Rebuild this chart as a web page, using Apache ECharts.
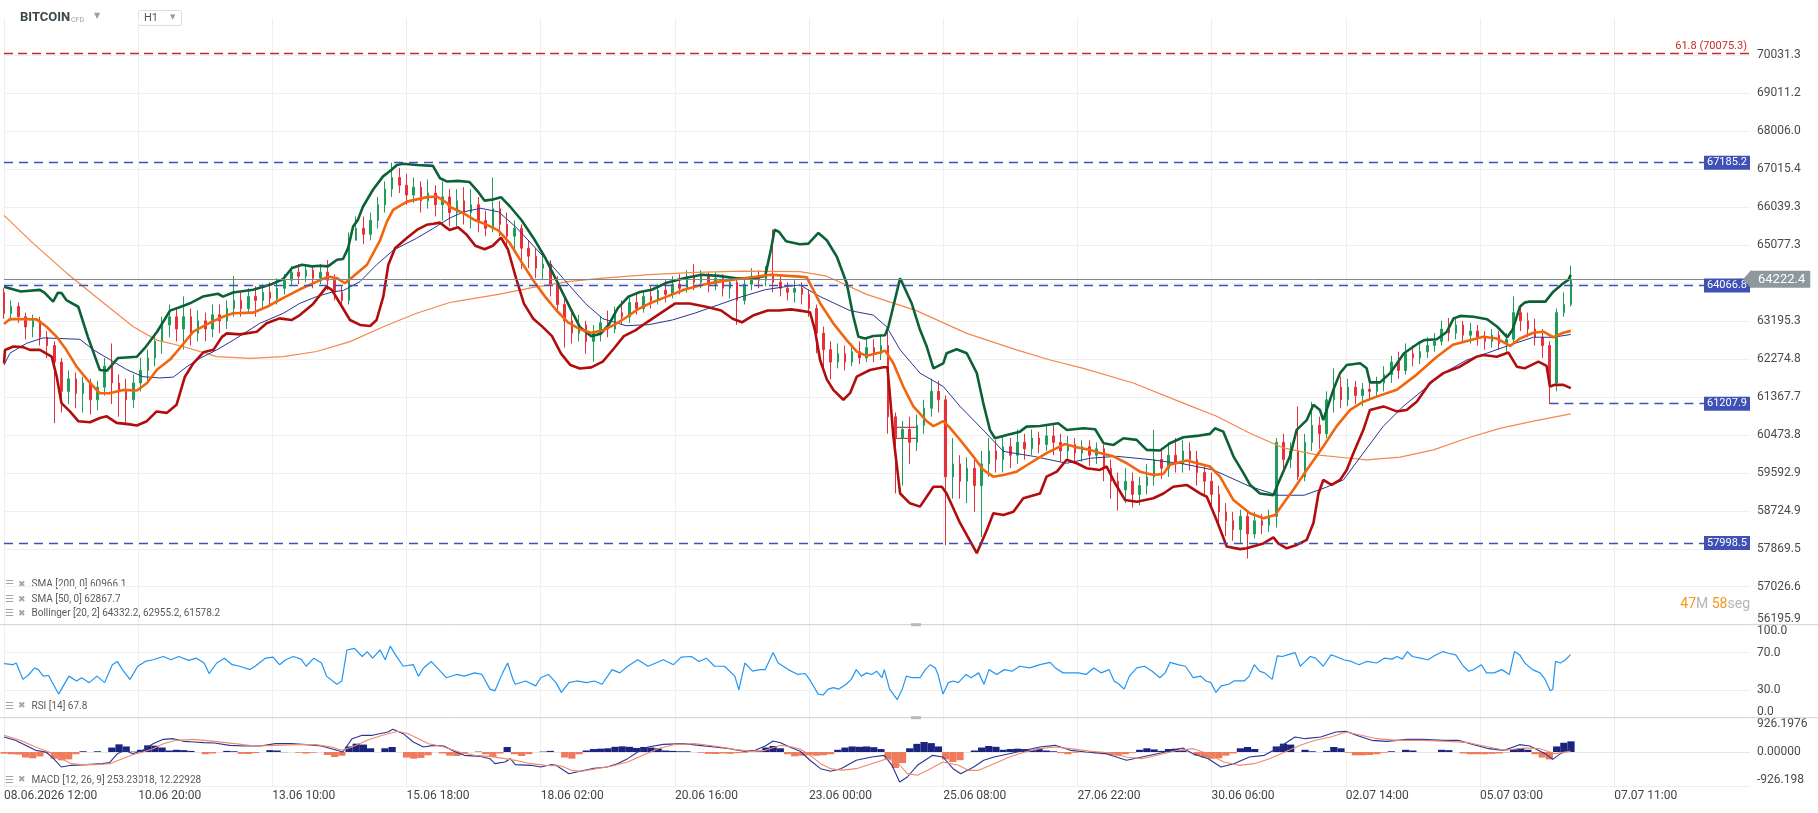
<!DOCTYPE html>
<html>
<head>
<meta charset="utf-8">
<title>BITCOIN H1</title>
<script src="https://cdn.jsdelivr.net/npm/echarts@6/dist/echarts.min.js"></script>
<style>
  html, body { margin: 0; padding: 0; background: #fff; }
  #chart { width: 1818px; height: 813px; }
</style>
</head>
<body>
<div id="chart"></div>
<script>
// bar index = hourly bars counted from 08.06.2026 12:00
const xTicks = [0, 56, 112, 168, 224, 280, 336, 392, 448, 504, 560, 616, 672]
const xLabels = ['08.06.2026 12:00', '10.06 20:00', '13.06 10:00', '15.06 18:00', '18.06 02:00', '20.06 16:00',
  '23.06 00:00', '25.06 08:00', '27.06 22:00', '30.06 06:00', '02.07 14:00', '05.07 03:00', '07.07 11:00']

const priceTicks = [56195.9, 57026.6, 57869.5, 58724.9, 59592.9, 60473.8, 61367.7, 62274.8, 63195.3,
  64129.5, 65077.3, 66039.3, 67015.4, 68006.0, 69011.2, 70031.3]
const hiddenPriceLabel = 64129.5
const rsiTicks = [0, 30, 70, 100]
const macdTicks = [-926.198, 0, 926.1976]
const macdTickLabels = ['-926.198', '0.00000', '926.1976']

// one candle every 3 bars: [open, close, low, high]
const candleStep = 3
const candles = [
  [63900,63380,63250,64000],[63380,63550,63200,63700],[63550,63300,63150,63650],[63300,63050,62750,63400],
  [63050,63200,62800,63350],[63200,62800,62600,63300],[62800,62600,62300,62950],[62600,62200,60750,62700],
  [62200,61500,61000,62300],[61500,61800,61200,62000],[61800,61450,61100,61950],[61450,61700,61000,61850],
  [61700,61300,60950,61800],[61300,61600,61050,61750],[61600,62100,61400,62300],[62100,61700,61200,62650],
  [61700,61500,60900,61900],[61500,61300,60750,61800],[61300,61700,61100,61900],[61700,62000,61500,62300],
  [62000,62300,61700,62500],[62300,62700,62100,62900],[62700,63100,62400,63300],[63100,63300,62800,63600],
  [63300,63000,62700,63500],[63000,63300,62500,63800],[63300,62900,62600,63500],[62900,63200,62700,63450],
  [63200,63000,62700,63400],[63000,63350,62800,63600],[63350,63200,62900,63600],[63200,63500,63000,63700],
  [63500,63700,63300,64300],[63700,63500,63300,63900],[63500,63800,63400,64000],[63800,63700,63300,64050],
  [63700,63900,63500,64100],[63900,63750,63550,64150],[63750,64000,63600,64250],[64000,64200,63850,64350],
  [64200,64400,64050,64550],[64400,64300,64100,64600],[64300,64450,64150,64600],[64450,64250,64000,64550],
  [64250,64400,64100,64600],[64400,64200,63950,64700],[64200,63900,63700,64350],[63900,63700,63600,64050],
  [63700,65200,63600,65400],[65200,65500,65200,65800],[65500,65350,65100,65800],[65350,65700,65200,65900],
  [65700,66100,65500,66300],[66100,66500,65900,66700],[66500,66800,66300,67185],[66800,66600,66400,67050],
  [66600,66350,66100,66900],[66350,66550,66150,66800],[66550,66200,65900,66700],[66200,66400,66000,66750],
  [66400,66100,65800,66600],[66100,66300,65700,66700],[66300,65900,65550,66500],
  [65900,66200,65550,66500],[66200,65900,65600,66550],[65900,66100,65500,66500],[66100,65700,65400,66300],
  [65700,65500,65300,65950],[65500,66000,65400,66800],[66000,65600,65300,66200],[65600,65300,65000,65900],
  [65300,65500,64900,65700],[65500,65000,64480,65600],[65000,64800,64500,65200],[64800,64500,64250,65000],
  [64500,64600,64200,64900],[64600,64100,63800,64700],[64100,63600,63400,64300],[63600,63200,62550,63800],
  [63200,62900,62650,63400],[62900,63100,62700,63350],[63100,62700,62400,63200],[62700,62900,62210,63100],
  [62900,63150,62700,63300],[63150,63000,62800,63450],[63000,63400,62900,63550],[63400,63300,63100,63700],
  [63300,63650,63150,63800],[63650,63500,63350,63850],[63500,63800,63400,63950],[63800,63700,63500,64050],
  [63700,63950,63600,64100],[63950,63850,63650,64200],[63850,64100,63750,64300],[64100,64000,63850,64350],
  [64000,64300,63900,64450],[64300,64150,63950,64600],[64150,64300,64000,64450],[64300,64100,63900,64400],
  [64100,64250,63950,64400],[64250,64000,63800,64350],[64000,64150,63750,64300],[64150,63700,63100,64250],
  [63700,64100,63600,64250],[64100,64300,63950,64500],[64300,64200,64000,64450],[64200,64350,64050,64550],
  [64350,64150,63900,65470],[64150,64000,63800,64300],[64000,63900,63700,64150],[63900,64000,63650,64200],
  [64000,63850,63600,64150],[63850,63500,63300,63960],[63500,62900,62410,63600],[62900,62500,62000,63060],
  [62500,62200,61785,62700],[62200,62400,62050,62650],[62400,62200,62000,62600],[62200,62450,62100,62650],
  [62450,62300,62150,62700],[62300,62550,62200,62800],[62550,62400,62200,62750],[62400,62600,62250,62850],
  [62600,60900,60500,62980],[60900,60400,59120,61000],[60400,60600,59300,60800],[60600,60300,59800,60900],
  [60300,60700,60100,60950],[60700,61100,60500,61300],[61100,61500,60900,61800],[61500,61300,61000,61750],
  [61300,59500,57950,61400],[59500,59800,59000,60400],[59800,59400,59000,60000],[59400,59700,58900,59950],
  [59700,59300,58700,59900],[59300,59800,58130,60100],[59800,60100,59500,60400],[60100,59900,59600,60350],
  [59900,60200,59600,60450],[60200,60000,59700,60400],[60000,60300,59800,60600],[60300,60150,59900,60500],
  [60150,60400,60000,60600],[60400,60250,60050,60550],[60250,60450,60100,60700],[60450,60300,60000,60750],
  [60300,60100,59850,60500],[60100,60250,59900,60450],[60250,60050,59800,60400],[60050,60200,59850,60350],
  [60200,60000,59750,60350],[60000,60150,59800,60300],[60150,59700,59400,60250],[59700,59400,59000,59900],
  [59400,59200,58730,59600],[59200,59400,58900,59700],[59400,59100,58800,59600],[59100,59300,58850,59500],
  [59300,59500,59100,59800],[59500,59900,59300,60590],[59900,59700,59450,60100],[59700,60000,59500,60300],
  [60000,59800,59600,60400],[59800,60100,59600,60350],[60100,59900,59650,60300],[59900,59600,59300,60100],
  [59600,59400,59050,59750],[59400,59100,58800,59600],[59100,58700,58400,59300],[58700,58500,58150,58900],
  [58500,58300,58050,58700],[58300,58600,58000,58750],[58600,58200,57650,58700],[58200,58500,58100,58700],
  [58500,58400,58200,58650],[58400,58600,58250,58750],[58600,60300,58350,60400],[60300,59900,59700,60500],
  [59900,60100,59700,60300],[60100,59500,59430,61140],[59500,60300,59400,60500],[60300,60700,60100,61250],
  [60700,60500,60150,60900],[60500,61300,60400,61500],[61300,61600,61000,62050],[61600,61300,61100,61850],
  [61300,61600,61150,61800],[61600,61400,61200,61750],[61400,61550,61150,61700],[61550,61500,61300,61850],
  [61500,61700,61370,61850],[61700,61900,61500,62100],[61900,62200,61700,62350],[62200,62000,61800,62450],
  [62000,62400,61900,62650],[62400,62300,62100,62600],[62300,62450,62150,62650],[62450,62600,62300,62800],
  [62600,62700,62450,62900],[62700,63000,62600,63200],[63000,62900,62700,63270],[62900,63100,62750,63250],
  [63100,62850,62700,63200],[62850,62950,62650,63150],[62950,62800,62600,63100],[62800,62700,62500,62950],
  [62700,62850,62550,63000],[62850,62650,62500,62950],[62650,62750,62450,62900],[62750,63400,62650,63800],
  [63400,63200,62950,63600],[63200,63000,62800,63400],[63000,62800,62600,63250],[62800,62600,62300,63000],
  [62600,61700,61207.9,62700],[61700,63400,61500,63500],[63400,63600,63300,63900],[63600,64222.4,63550,64560]
]

// indicator lines: [bar index, value]
const bbUpper = [
  [0,64040],[7,63920],[15,63960],[17,63885],[20.5,63670],[22.5,63890],[24,63885],[26,63710],[31,63545],[35,62810],
  [40,62010],[43,61995],[47.6,62300],[55.5,62330],[58.8,62540],[63.9,62935],[69.3,63450],[74.7,63565],[77.6,63630],
  [83,63795],[89.3,63865],[91.4,63795],[95.6,63895],[104,63965],[111,64085],[116.4,64225],[120.2,64505],[124.4,64585],
  [128.5,64545],[131.9,64560],[135.2,64545],[139,64710],[141.5,64730],[143.6,65000],[145.7,65545],[147.7,65715],
  [149.8,66050],[154,66485],[158.2,66830],[161,66960],[164,67125],[166.5,67155],[172.4,67125],[179,67100],[182,66780],
  [185,66695],[189.5,66713],[194.3,66683],[197.7,66444],[200.6,66205],[204,66235],[207.4,66295],[211.2,66056],
  [216,65705],[220.9,65265],[225.8,64771],[230.6,64193],[235.4,63623],[240.3,63052],[245.1,62827],[249,62883],
  [252.4,63108],[256.2,63509],[260.6,63794],[265.4,63908],[270.3,63965],[276.6,64136],[283.8,64250],[291.1,64337],
  [298.3,64308],[305.6,64250],[312.9,64250],[317.7,64308],[320.1,64973],[321.6,65467],[323.5,65408],[326.4,65175],
  [332.2,65100],[335.7,65115],[339.9,65385],[343.4,65200],[347.6,64785],[351.7,64125],[354.5,63300],[356.6,62812],
  [359.4,62770],[362.8,62829],[367.7,62850],[369.1,63056],[374,64250],[378.8,63632],[382.3,62980],[385.1,62574],
  [387.9,62050],[392,62170],[393.4,62413],[397.6,62510],[401.8,62413],[406,61935],[408.7,61222],[411.5,60587],
  [413.6,60395],[418.5,60472],[424,60550],[426.8,60668],[432.4,60683],[440,60747],[443.6,60590],[450.5,60628],
  [455.4,60605],[458.9,60280],[463.1,60240],[467.2,60395],[472.7,60357],[476.9,60125],[482.5,60110],[486.6,60280],
  [492.2,60420],[497.8,60450],[503.3,60497],[505.4,60628],[508.9,60550],[513.1,59975],[517.3,59585],[520,59320],
  [524.2,59120],[529.8,59080],[531.8,59355],[536.7,59975],[539.5,60590],[543.7,60820],[546.5,61181],[549.2,61060],
  [550.6,60820],[554.8,61537],[557.6,61935],[560.4,62131],[566,62172],[568.7,62050],[570.1,61715],[574.3,61715],
  [578.5,61935],[584.3,62413],[590.3,62655],[592.7,62730],[598,62750],[602.2,62935],[605,63260],[607.8,63320],
  [613.3,63300],[619,63240],[623.2,63056],[627.4,62800],[629.6,62980],[632.7,63546],[634.6,63646],[636.3,63670],
  [643.3,63670],[646.6,63917],[650.8,64125],[652.9,64210],[653.9,64332]
]
const bbMid = [
  [0,63120],[2.5,63245],[13.6,63235],[17.8,63055],[22,62810],[26,62495],[30.3,62090],[35.9,61700],[40,61455],
  [44,61455],[49.7,61535],[55.5,61520],[59.7,61700],[63.9,62020],[69.3,62260],[73.5,62545],[79,62935],[86,63155],
  [91.4,63300],[95.6,63385],[104,63400],[109.8,63545],[116.4,63755],[123.5,63975],[130.6,64165],[135.2,64290],
  [139,64250],[142.3,64125],[145.7,64290],[151.5,64585],[157,65205],[159.8,65670],[162.4,65970],[168.2,66180],
  [176.5,66295],[180.7,66310],[185,66140],[186,66050],[191.9,65881],[196.7,65705],[201.6,65588],[206.4,65441],
  [211.2,65118],[216,64650],[220.9,64193],[225.8,63794],[230.6,63452],[235.4,63164],[240.3,62995],[245.1,62911],
  [249.9,62967],[254.8,63108],[259.6,63281],[264.5,63481],[269.3,63623],[276.6,63794],[283.8,63965],[291.1,64079],
  [298.3,64165],[305.6,64222],[312.9,64279],[320.1,64337],[327.4,64308],[332.2,64290],[335,64275],[340.6,63632],
  [346.1,63139],[351.7,62730],[355.9,62453],[360,62350],[365.6,62430],[367.7,62477],[371.2,62172],[375.3,61615],
  [379.5,61144],[385.1,60795],[387.9,60680],[392,60795],[394.8,60640],[399,60360],[404.5,59975],[408.7,59660],
  [412.9,59505],[417.1,59545],[422.6,59620],[428.2,59815],[435.1,60050],[442.7,60260],[447.6,60185],[453.3,60125],
  [457.4,60050],[463,59975],[468.6,59815],[474.1,59620],[479.7,59545],[483.9,59570],[486.6,59780],[493.6,59880],
  [503.3,59740],[507.5,59505],[513.1,58970],[520,58670],[525.6,58555],[530.5,58630],[534,58895],[538.1,59205],
  [543.7,59660],[550.6,60205],[556.2,60680],[561.8,61060],[567.3,61255],[572.9,61375],[581.3,61537],[589.6,61900],
  [598,62330],[604.7,62620],[611.8,62730],[617.4,62812],[623,62770],[628.6,62590],[632.7,62770],[638.3,62910],
  [642.5,62935],[646.6,62800],[650.8,62910],[653.9,62955]
]
const bbLow = [
  [0,62170],[0.4,62490],[3.9,62575],[8,62560],[10.8,62495],[15,62495],[19.9,62330],[22,61850],[24,61220],[27.5,61025],
  [31,60795],[35.9,60770],[40,60870],[42.9,60910],[47,60755],[52.6,60720],[55.4,60695],[59.6,60795],[63.7,61025],
  [67.9,60990],[72,61180],[75.5,61850],[79,62170],[83.2,62435],[87.4,62495],[91,62810],[93,62895],[98.5,62870],
  [105.5,62935],[109.6,63140],[115,63260],[120,63220],[123.5,63340],[129,63615],[134.7,64040],[136.8,63960],
  [140.2,63630],[144.4,63220],[148.6,63100],[152.8,63075],[155.5,63220],[158.3,63795],[160.4,64585],[163.2,65000],
  [168,65250],[172.3,65460],[176.4,65590],[179.2,65615],[182,65645],[184,65545],[186,65460],[189.5,65529],
  [192.9,65353],[196.7,65060],[200.6,64973],[204,65060],[207.4,65265],[210.3,64973],[213.7,64250],[217,63623],
  [220.9,63252],[224.8,63052],[228.7,62827],[232.5,62405],[236.4,62128],[240.3,62045],[245.1,62073],[249.9,62211],
  [254.8,62546],[258.7,62827],[263.5,62967],[268.3,63164],[274.2,63395],[280,63623],[286.2,63623],[293.5,63537],
  [299.3,63452],[304.1,63252],[308,63164],[312.9,63338],[318.7,63452],[323.5,63452],[328.4,63480],[332.2,63450],
  [336.4,63410],[338.5,62960],[340.6,62250],[343.4,61785],[346.1,61537],[350.3,61300],[353.1,61457],[355.9,61850],
  [361.4,62010],[367,62075],[368.7,62075],[369.8,61375],[371.2,60432],[374,59120],[378.1,58895],[382.3,58820],
  [387.9,59275],[391.4,59275],[393.4,59120],[399,58450],[406,57770],[410.2,58292],[412.9,58670],[417.1,58630],
  [421.3,58705],[425.4,59010],[432.4,59120],[435.1,59505],[439.4,59620],[443.5,59895],[447.7,59815],[451.9,59700],
  [457.4,59660],[460.2,59740],[463.7,59355],[467.9,58970],[472.8,58930],[479.7,59010],[483.9,59120],[488,59275],
  [493.6,59315],[499.2,59120],[502,59045],[506.1,58510],[510.3,57920],[515.9,57862],[518.6,57880],[525.6,57990],
  [529.8,58125],[531.8,57990],[535.3,57880],[539.5,57955],[543.7,58070],[546.5,58450],[548.6,59120],[550.6,59430],
  [554.1,59315],[557.6,59430],[560.4,59660],[563.2,60050],[567.3,60587],[570.1,61060],[575.7,61144],[581.3,61026],
  [585.4,61060],[589.6,61255],[595.1,61700],[600.7,61935],[607.6,62090],[614.6,62330],[617.4,62370],[623,62330],
  [627.9,62430],[631.4,62090],[634.6,62050],[640.4,62210],[643.8,62110],[645.2,61615],[647.3,61655],[650.8,61655],
  [653.9,61578]
]
const sma50 = [
  [0,62130],[2.5,62415],[9.5,62655],[16.4,62785],[31.7,62750],[37.3,62495],[44.2,62260],[51.2,62020],[58,61850],
  [65,61820],[70.7,61840],[76.3,62090],[81.8,62290],[88.8,62495],[95.7,62730],[106.8,63140],[116.6,63385],
  [123.5,63630],[130.5,63795],[137.4,63915],[141.6,63945],[148.6,64165],[155.5,64585],[162.5,64950],[172.2,65250],
  [179.2,65500],[186,65760],[191.9,65920],[199,66010],[206.4,65920],[213.7,65529],[220.9,65060],[228.2,64596],
  [235.4,64107],[242.7,63623],[249.9,63252],[259.6,63080],[269.3,63108],[279,63222],[288.7,63395],[298.3,63595],
  [308,63794],[317.7,63965],[327.4,64050],[332.2,64080],[340.6,63795],[353.1,63450],[362.8,63340],[368.4,63055],
  [374,62495],[382.3,61935],[392,61615],[399,61145],[408.7,60585],[417.1,60090],[429.6,59975],[443.5,59815],
  [453.3,59930],[464.4,59975],[478.3,59900],[492.2,59800],[504.7,59660],[520,59280],[531.5,59080],[542.6,59080],
  [552,59265],[559,59430],[567.3,60050],[575.7,60680],[584,61145],[592.4,61537],[600.7,61935],[610.5,62250],
  [618.8,62413],[628.4,62610],[638.3,62800],[646.6,62800],[653.9,62868]
]
const sma200 = [
  [0,65830],[12.2,65120],[26.2,64375],[40,63710],[54,63055],[63.7,62730],[74.8,62575],[88.8,62330],[102.7,62290],
  [116.6,62330],[130.5,62455],[144.4,62695],[158.3,63055],[172.2,63385],[186,63650],[191.9,63708],[206.4,63851],
  [220.9,64022],[235.4,64165],[249.9,64250],[269.3,64337],[288.7,64395],[308,64424],[332.2,64415],[343.4,64300],
  [360,63850],[380.8,63450],[401.8,62895],[422.6,62495],[436.6,62250],[450.5,62050],[471.3,61700],[492.2,61222],
  [506.1,60910],[520,60512],[534,60170],[547.9,60010],[561.8,59930],[568.8,59895],[582.7,59955],[596.6,60125],
  [610.5,60395],[624.3,60628],[638.3,60795],[653.9,60966]
]
const rsi = [
  [0,58.1],[3.7,57],[5.1,58.8],[7.9,41.2],[10,45.4],[12.8,53.5],[14.3,51.7],[16.4,44.7],[18.6,45.4],[22.8,25.4],
  [27.1,44.7],[30.3,39.5],[32.4,43],[35.6,37.7],[38.8,44.7],[42,37.7],[45.2,57],[47.3,60.5],[49.4,51.7],[52.6,41.2],
  [55.8,55.3],[59,60.5],[62.2,62.3],[66.5,65.8],[69.7,62.3],[72.9,65.8],[77.1,61.6],[80.3,64],[83.5,58.8],[85.6,47.5],
  [88.8,58.8],[92,64],[95.2,57],[98.4,55.3],[102.7,51.7],[104.8,55.3],[109.1,64],[112.3,65.1],[115,57],[117.6,62.3],
  [120.8,65.8],[124,63],[126.1,55.3],[129.3,64],[132.5,58.8],[134.6,44.7],[138.9,36],[141,39.5],[143.1,72.8],
  [146.3,74.6],[149.5,65.8],[151.6,71.1],[153.8,64],[157,72.8],[159.1,62.3],[161.2,77],[163.4,67.5],[166.6,55.3],
  [170.8,57],[173,44.7],[175.1,53.5],[178.3,60.5],[181.5,51.7],[184.6,43],[188.9,46.5],[192.1,44.7],[196.4,48.2],
  [199.5,46.5],[202.8,30.7],[204.9,28.9],[208.1,48.2],[210.2,58.8],[212.4,41.2],[213.4,36],[217.7,39.5],[221.9,34.2],
  [224,43],[227.2,46.5],[230.4,37.7],[232.6,27.2],[235.8,37.7],[239,39.5],[243.2,37.7],[246.4,39.5],[249.6,36],
  [253.8,51.7],[257,48.2],[260.3,55.3],[264.5,62.3],[268.8,55.3],[272,58.8],[275.2,62.3],[279.4,57],[282.6,65.1],
  [286.9,65.8],[290.1,60.5],[293.2,64],[296.5,55.3],[300.7,55.3],[305,44.7],[306.7,30],[309.2,58.8],[312.4,50],
  [315.6,51.7],[317.7,51.7],[321,70],[323.1,58.8],[327.3,51.7],[331.3,46.5],[334.4,47.5],[336.6,39.5],[339.8,25.4],
  [341.9,24.4],[344,30.7],[346.2,32.4],[348.3,30.7],[351.5,36],[353.6,41.2],[355.7,51.7],[357.8,44.7],[360,48.2],
  [362.1,46.5],[364.2,50],[366.4,43],[367.4,51.7],[369.6,30.7],[372.8,19.5],[374.9,30.7],[376.6,44.7],[379.1,43],
  [382.3,43],[384.5,51.7],[386.6,57],[388.7,53.5],[389.8,46.5],[391.9,25.4],[394.1,37.7],[396.2,39.5],[398.3,37.7],
  [401.5,46.5],[403.6,43],[406.8,48.2],[409,36],[411.1,51.7],[414.3,46.5],[417.5,51.7],[420.7,50],[423.9,55.3],
  [428.1,53.5],[432.4,57],[436.6,59.5],[438.8,53.5],[442,48.2],[445.2,48.2],[448.4,48.2],[451.6,46.5],[454.8,53.5],
  [457.9,48.2],[461.2,51.7],[463.3,39.5],[465.4,36],[467.5,30.7],[469.7,44.7],[472.8,53.5],[476,55.3],[479.2,50],
  [482.4,43],[484.6,48.2],[486.7,59.5],[489.9,57],[493.1,55.3],[496.3,43],[499.5,44.7],[501.6,39.5],[503.7,37.7],
  [505.8,27.2],[508,34.2],[511.2,36],[513.3,39.5],[517.6,39.5],[519.7,44.7],[521.8,57],[524,50],[526.1,48.2],
  [529.3,41.2],[531.4,66.5],[533.5,65.8],[535.6,67.5],[538.9,70],[541,55.3],[543.1,60.5],[545.2,65.8],[547.4,64],
  [550.6,55.3],[553.8,67.5],[555.9,65.8],[559.1,62.3],[562.3,60.5],[565.5,57],[568.7,60.5],[572.9,58.8],[576.1,64],
  [579.3,63],[581.4,65.8],[583.6,63],[585.7,71.1],[587.8,65.8],[591.1,64],[594.3,62.3],[597.5,67.5],[600.6,71.1],
  [602.8,69.3],[605.9,67.5],[609.1,55.3],[611.3,50],[613.4,51.7],[616.6,57],[618.7,48.2],[621.9,48.2],[625.1,51.7],
  [628.3,46.5],[630.4,71.1],[632.6,67.5],[634.7,58.8],[637.9,51.7],[641.1,48.2],[643.2,41.2],[645.3,28.9],
  [646.4,30.7],[647.5,60.5],[649.6,58.8],[651.7,62.3],[653.8,67.8]
]
const macdLine = [
  [0,405],[4.7,315],[9,180],[13.2,45],[17.5,0],[20.7,-180],[23.9,-405],[28.1,-360],[34.5,-342],[40.9,-315],
  [44.1,-288],[47.3,-45],[50.5,45],[53.7,-45],[58,45],[62.2,225],[66.5,342],[70.7,360],[75,288],[79.3,270],
  [83.5,252],[87.8,243],[94.2,180],[100.5,162],[106.9,162],[113.3,225],[119.7,225],[126.1,198],[132.5,162],
  [138.9,45],[141.4,0],[145.3,360],[149.5,450],[153.8,450],[160.2,540],[162.3,612],[166.6,495],[170.8,270],
  [175.1,135],[179.3,180],[183.6,162],[187.8,18],[192.1,-90],[198.5,-117],[202.8,-180],[204.9,-315],[209.1,-270],
  [211.3,-180],[213.4,-342],[219.8,-360],[224,-405],[228.3,-342],[230.4,-360],[232.6,-450],[235.8,-585],[239,-540],
  [245.3,-450],[251.7,-405],[256,-315],[260.3,-180],[264.5,0],[268.8,135],[275.2,207],[283.7,225],[290.1,180],
  [296.5,135],[302.8,90],[309.2,18],[313.5,45],[317.7,162],[321,297],[324.1,252],[328.4,120],[332.3,20],
  [336.5,-230],[340.8,-450],[345,-522],[349.3,-450],[355.7,-225],[362.1,-135],[367.4,-90],[370.6,-360],[373.8,-810],
  [377,-675],[381.2,-360],[387.6,-90],[391.9,-135],[396.1,-450],[399.3,-585],[404.7,-405],[408.9,-225],[413.2,-135],
  [419.6,-45],[426,45],[432.3,135],[438.7,180],[445.1,45],[451.5,0],[460,-45],[468.5,-225],[474.9,-135],[481.3,-45],
  [487.7,45],[492,108],[496.2,-45],[502.6,-180],[507.9,-405],[513.3,-315],[519.7,-135],[526,-90],[532.4,135],
  [538.8,405],[543.1,360],[549.5,405],[555.9,540],[560.1,558],[564.4,450],[570.8,315],[577.1,288],[585.7,342],
  [592.1,342],[600.6,315],[607,315],[613.4,198],[619.7,90],[626.1,45],[632.5,198],[636.8,162],[643.2,-45],
  [646.4,-198],[649.6,-45],[653.8,90]
]
const signalLine = [
  [0,450],[6.8,315],[13.2,135],[19.6,-18],[23.9,-180],[28.1,-315],[32.4,-342],[38.8,-342],[44.1,-315],[49.4,-180],
  [53.7,-72],[58,0],[62.2,90],[66.5,225],[71.8,315],[79.3,342],[87.8,288],[96.3,225],[104.8,162],[113.3,180],
  [121.8,198],[130.3,198],[136.7,135],[141,45],[145.3,135],[151.6,315],[158,450],[164.4,558],[168.7,495],[173,360],
  [177.2,225],[183.6,135],[190,0],[196.4,-90],[202.8,-117],[209.1,-180],[213.4,-225],[219.8,-315],[226.2,-360],
  [232.6,-378],[236.8,-495],[241.1,-522],[247.4,-450],[253.8,-378],[260.3,-270],[266.6,-90],[273,90],[279.4,198],
  [287.9,225],[296.5,162],[305,72],[311.4,18],[317.7,45],[324.1,180],[328,150],[332.2,80],[336.5,-90],[340.8,-315],
  [345,-450],[349.3,-495],[355.7,-450],[362.1,-315],[368.5,-180],[372.7,-270],[377,-585],[381.2,-630],[385.5,-495],
  [391.9,-270],[398.3,-360],[402.5,-495],[406.8,-495],[413.2,-315],[419.6,-135],[426,0],[432.3,90],[438.7,135],
  [445.1,90],[453.6,18],[462.2,-27],[468.5,-135],[474.9,-180],[481.3,-90],[489.8,45],[496.2,90],[502.6,-45],
  [509,-270],[515.4,-360],[521.8,-315],[528.2,-180],[534.6,0],[541,180],[547.3,315],[553.7,405],[560.1,540],
  [566.5,450],[572.9,360],[581.4,315],[592.1,315],[602.7,288],[611.2,252],[619.7,135],[626.1,45],[634.6,108],
  [641,90],[647.4,-45],[653.8,18]
]
// MACD histogram, one value every 3 bars
const macdHist = [
  -45,-60,-70,-150,-170,-120,-30,-180,-225,-200,-60,20,0,20,0,120,207,150,10,60,
  180,170,120,40,60,50,30,0,-60,-40,0,30,20,-50,-54,-30,0,50,40,-10,
  0,-20,-40,-20,0,-80,-135,-100,150,225,200,100,0,100,135,0,-150,-180,-160,-90,
  0,-40,-100,-108,-50,0,10,-60,-135,-40,135,-60,-108,-60,0,10,30,0,-150,-180,
  -60,40,80,90,100,140,153,140,110,135,120,100,40,30,20,20,0,-20,-50,-54,
  -40,-50,-30,-20,0,20,120,162,100,-60,-117,-100,-90,-100,-90,-60,60,120,150,140,
  150,130,80,-200,-432,-300,100,220,270,240,150,-200,-270,-220,0,40,120,162,140,60,
  80,90,80,60,90,40,20,-30,-60,-20,0,0,-40,-60,-80,-100,-60,-20,60,100,
  70,30,80,90,40,0,-100,-150,-180,-170,-100,-40,100,135,80,0,0,150,225,200,
  0,60,20,0,30,135,100,-20,-90,-90,-80,-60,-20,20,0,60,40,0,0,0,
  60,50,0,-40,-60,-60,-63,-50,-40,-10,80,108,60,-60,-150,-200,150,250,288
]

const levelLines = [67185.2, 64066.8, 57998.5]
const swingLow = { index: 645, price: 61207.9 }
const fibLevel = { price: 70075.3, text: '61.8 (70075.3)' }
const lastPrice = 64222.4
const boxArea = { from: [371.2, 60652], to: [381.2, 60394] }

const legendRows = ['SMA [200, 0] 60966.1', 'SMA [50, 0] 62867.7', 'Bollinger [20, 2] 64332.2, 62955.2, 61578.2']
const rsiLegend = 'RSI [14] 67.8'
const macdLegend = 'MACD [12, 26, 9] 253.23018, 12.22928'

// ---- build ----
const L = Math.log
const xMax = 728.7
const blue = '#3f51b5'
const gridColor = '#efefef'
const font = 'Roboto, sans-serif'

const logPts = arr => arr.map(p => [p[0], L(p[1])])
const candleData = candles.map((c, k) => [k * candleStep, L(c[0]), L(c[1]), L(c[2]), L(c[3])])
const histData = macdHist.map((v, k) => [k * candleStep, v])

const xAxisFor = (gi, showLabel) => ({
  gridIndex: gi, type: 'value', min: 0, max: xMax,
  axisLine: { show: gi === 2, lineStyle: { color: '#e6e6e6' } },
  axisTick: { show: false, customValues: xTicks },
  axisLabel: {
    show: showLabel, customValues: xTicks, align: 'left', margin: 4,
    color: '#444', fontSize: 12, fontFamily: font,
    formatter: v => xLabels[xTicks.indexOf(v)] || ''
  },
  splitLine: { show: true, lineStyle: { color: gridColor } }
})

const yLabelBase = { color: '#4a4a4a', fontSize: 12, fontFamily: font, margin: 7, align: 'left' }

const lineSeries = (name, data, color, width) => ({
  name, type: 'line', data: logPts(data), xAxisIndex: 0, yAxisIndex: 0,
  symbol: 'none', smooth: false, silent: true,
  lineStyle: { color, width }
})

const blueTag = text => ({
  position: 'insideEnd', distance: 0, formatter: text,
  color: '#fff', fontSize: 11, fontFamily: font,
  backgroundColor: blue, padding: [2, 3, 1, 3]
})

const option = {
  animation: false,
  backgroundColor: '#fff',
  grid: [
    { left: 4, right: 68, top: 18, bottom: 188.3 },
    { left: 4, right: 68, top: 624.7, height: 93 },
    { left: 4, right: 68, top: 717.7, height: 68.6 }
  ],
  xAxis: [xAxisFor(0, false), xAxisFor(1, false), xAxisFor(2, true)],
  yAxis: [
    {
      gridIndex: 0, type: 'value', position: 'right',
      min: L(priceTicks[0]), max: L(71048.3),
      axisLine: { show: false },
      axisTick: { show: false, customValues: priceTicks.map(L) },
      axisLabel: Object.assign({}, yLabelBase, {
        customValues: priceTicks.filter(v => v !== hiddenPriceLabel).map(L),
        formatter: v => Math.exp(v).toFixed(1),
        verticalAlignMinLabel: 'bottom'
      }),
      splitLine: { show: true, lineStyle: { color: gridColor } }
    },
    {
      gridIndex: 1, type: 'value', position: 'right', min: 0, max: 100,
      axisLine: { show: false },
      axisTick: { show: false, customValues: rsiTicks },
      axisLabel: Object.assign({}, yLabelBase, {
        customValues: rsiTicks, formatter: v => v.toFixed(1),
        verticalAlignMinLabel: 'bottom', verticalAlignMaxLabel: 'top'
      }),
      splitLine: { show: true, lineStyle: { color: gridColor } }
    },
    {
      gridIndex: 2, type: 'value', position: 'right', min: macdTicks[0], max: macdTicks[2],
      axisLine: { show: false },
      axisTick: { show: false, customValues: macdTicks },
      axisLabel: Object.assign({}, yLabelBase, {
        customValues: macdTicks, formatter: v => macdTickLabels[macdTicks.indexOf(v)],
        verticalAlignMinLabel: 'bottom', verticalAlignMaxLabel: 'top'
      }),
      splitLine: { show: true, lineStyle: { color: gridColor } }
    }
  ],
  series: [
    {
      name: 'BITCOIN', type: 'candlestick', xAxisIndex: 0, yAxisIndex: 0,
      data: candleData, encode: { x: 0, y: [1, 2, 3, 4] },
      barWidth: 2,
      itemStyle: { color: '#1e9e58', color0: '#e8303a', borderColor: '#1e9e58', borderColor0: '#e8303a', borderWidth: 1 },
      markLine: {
        silent: true, symbol: ['none', 'none'], precision: 10,
        lineStyle: { color: blue, type: [9, 6], width: 1.3 },
        label: blueTag(''),
        data: levelLines.map(v => ({ yAxis: L(v), label: blueTag(v.toFixed(1)) })).concat([
          [{ coord: [swingLow.index, L(swingLow.price)], label: blueTag(swingLow.price.toFixed(1)) },
           { coord: [xMax, L(swingLow.price)] }],
          {
            yAxis: L(fibLevel.price),
            lineStyle: { color: '#c62828', type: [9, 5], width: 1.3 },
            label: {
              position: 'insideEndTop', distance: [3, 2], formatter: fibLevel.text,
              color: '#c62828', fontSize: 11, fontFamily: font,
              backgroundColor: 'transparent', padding: 0,
              width: 88, overflow: 'truncate', ellipsis: ''
            }
          },
          {
            yAxis: L(lastPrice),
            lineStyle: { color: '#7d888c', type: 'solid', width: 1 },
            label: {
              position: 'end', distance: 0, formatter: lastPrice.toFixed(1),
              color: '#fff', fontSize: 13, fontFamily: font,
              backgroundColor: '#8d999d', padding: [2, 5, 2, 8]
            }
          }
        ])
      },
      markArea: {
        silent: true,
        itemStyle: { color: 'rgba(0,0,0,0)', borderColor: '#b0181c', borderWidth: 1 },
        data: [[{ coord: [boxArea.from[0], L(boxArea.from[1])] }, { coord: [boxArea.to[0], L(boxArea.to[1])] }]]
      }
    },
    lineSeries('SMA 200', sma200, '#f5874c', 1.2),
    lineSeries('SMA 50', sma50, '#283593', 1),
    lineSeries('BB upper', bbUpper, '#0c6236', 2.6),
    lineSeries('BB mid', bbMid, '#f0650e', 2.6),
    lineSeries('BB lower', bbLow, '#b10d0d', 2.6),
    {
      name: 'RSI', type: 'line', xAxisIndex: 1, yAxisIndex: 1, data: rsi,
      symbol: 'none', silent: true, lineStyle: { color: '#2196f3', width: 1.2 }
    },
    {
      name: 'MACD hist', type: 'bar', xAxisIndex: 2, yAxisIndex: 2, data: histData,
      barWidth: 7.2, silent: true,
      itemStyle: { color: p => (p.value[1] >= 0 ? '#1a237e' : '#ee7b5c') }
    },
    {
      name: 'MACD', type: 'line', xAxisIndex: 2, yAxisIndex: 2, data: macdLine,
      symbol: 'none', silent: true, lineStyle: { color: '#283593', width: 1.1 }
    },
    {
      name: 'Signal', type: 'line', xAxisIndex: 2, yAxisIndex: 2, data: signalLine,
      symbol: 'none', silent: true, lineStyle: { color: '#f08a6c', width: 1.1 }
    }
  ],
  graphic: []
}

// header, indicator captions, panel separators
const g = option.graphic
g.push({ type: 'text', x: 20, y: 18, style: { text: 'BITCOIN', font: 'bold 13px Roboto', fill: '#3b474d', verticalAlign: 'middle' } })
g.push({ type: 'text', x: 71, y: 20, style: { text: 'CFD', font: '7px Roboto', fill: '#9aa0a4', verticalAlign: 'middle' } })
g.push({ type: 'text', x: 94, y: 16, style: { text: '▼', font: '8px "DejaVu Sans"', fill: '#9aa0a4', verticalAlign: 'middle' } })
g.push({ type: 'rect', shape: { x: 138.5, y: 10.5, width: 43, height: 15, r: 2 }, style: { fill: '#fff', stroke: '#dcdcdc' } })
g.push({ type: 'text', x: 144, y: 18.5, style: { text: 'H1', font: '11px Roboto', fill: '#555', verticalAlign: 'middle' } })
g.push({ type: 'text', x: 170, y: 17.5, style: { text: '▼', font: '7px "DejaVu Sans"', fill: '#9a9a9a', verticalAlign: 'middle' } })

const caption = (text, y) => {
  g.push({ type: 'text', x: 5, y, style: { text: '☰', font: '10px "DejaVu Sans"', fill: '#a5a5a5', verticalAlign: 'middle' } })
  g.push({ type: 'text', x: 18, y, style: { text: '✖', font: '9px "DejaVu Sans"', fill: '#a5a5a5', verticalAlign: 'middle' } })
  g.push({ type: 'text', x: 31.5, y, style: { text, font: '10px Roboto', fill: '#5a5a5a', verticalAlign: 'middle' } })
}
legendRows.forEach((t, k) => caption(t, 584.7 + k * 14.5))
caption(rsiLegend, 706)
caption(macdLegend, 780)

g.push({
  type: 'text', x: 1750, y: 604,
  style: {
    text: '{a|47}{b|M }{a|58}{b|seg}', align: 'right', verticalAlign: 'middle',
    rich: { a: { fill: '#f7941d', font: '14px Roboto' }, b: { fill: '#b5b5b5', font: '14px Roboto' } }
  }
})
;[624.7, 717.7].forEach(y => {
  g.push({ type: 'line', shape: { x1: 0, y1: y, x2: 1818, y2: y }, style: { stroke: '#d2d2d2', lineWidth: 1 }, z: 5 })
  g.push({ type: 'rect', shape: { x: 911, y: y - 1.5, width: 10, height: 3 }, style: { fill: '#b8b8b8' }, z: 6 })
})

const chart = echarts.init(document.getElementById('chart'), null, { renderer: 'canvas' })
chart.setOption(option)

// pointer of the last-price tag
const tagY = chart.convertToPixel({ yAxisIndex: 0 }, L(lastPrice))
g.push({ type: 'polygon', shape: { points: [[1743, tagY], [1751, tagY - 9], [1751, tagY + 9]] }, style: { fill: '#8d999d' }, z: 10 })
chart.setOption({ graphic: g })
</script>
</body>
</html>
